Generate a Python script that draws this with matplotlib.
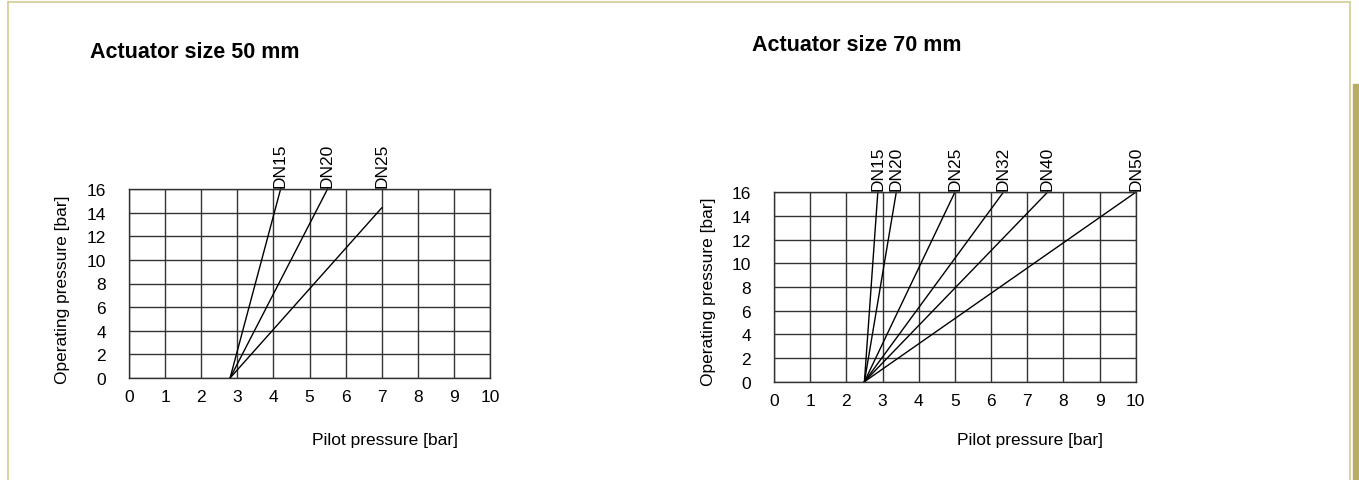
import matplotlib.pyplot as plt
from matplotlib.patches import Rectangle
from matplotlib.lines import Line2D

plt.rcParams['font.family'] = ['Liberation Sans', 'DejaVu Sans']

# Actuator size 50 mm
sizes_50 = ["DN15", "DN20", "DN25"]
start_50 = 2.8
end_x_50 = [4.2, 5.5, 7.0]
end_y_50 = [16, 16, 14.4]

# Actuator size 70 mm
sizes_70 = ["DN15", "DN20", "DN25", "DN32", "DN40", "DN50"]
start_70 = 2.5
end_x_70 = [2.87, 3.38, 5.0, 6.34, 7.56, 10.0]
end_y_70 = [16, 16, 16, 16, 16, 16]

x_ticks = list(range(0, 11))
y_ticks = list(range(0, 17, 2))

W, H = 1359, 481
fig = plt.figure(figsize=(W / 100, H / 100), dpi=100)

GRID = "#333333"
FS = 12.5


def draw_panel(rect, title, title_pos, ylab_pos, xlab_pos, names, x0, ex, ey):
    ax = fig.add_axes(rect)
    ax.set_xlim(0, 10)
    ax.set_ylim(0, 16)
    ax.set_xticks(x_ticks)
    ax.set_yticks(y_ticks)
    ax.tick_params(length=0, labelsize=FS)
    ax.tick_params(axis='x', pad=8)
    ax.tick_params(axis='y', pad=16.5)
    ax.grid(True, color=GRID, linewidth=1)
    for s in ax.spines.values():
        s.set_color(GRID)
        s.set_linewidth(1)
    for name, xe, ye in zip(names, ex, ey):
        ax.plot([x0, xe], [0, ye], color="black", linewidth=1, clip_on=False)
        ax.text(xe, 16.2, name, rotation=90, ha='center', va='bottom', fontsize=FS)
    fig.text(title_pos[0] / W, 1 - title_pos[1] / H, title, fontsize=15.5,
             fontweight='bold', ha='left', va='baseline')
    fig.text(ylab_pos[0] / W, 1 - ylab_pos[1] / H, "Operating pressure [bar]",
             rotation=90, ha='center', va='center', fontsize=FS)
    fig.text(xlab_pos[0] / W, 1 - xlab_pos[1] / H, "Pilot pressure [bar]",
             ha='center', va='center', fontsize=FS)
    return ax


draw_panel([129 / W, 1 - 379 / H, 361 / W, 189 / H], "Actuator size 50 mm",
           (90, 58), (62, 290), (385, 440), sizes_50, start_50, end_x_50, end_y_50)
draw_panel([774 / W, 1 - 382.7 / H, 361.7 / W, 189.4 / H], "Actuator size 70 mm",
           (752, 51), (708, 292), (1030, 440), sizes_70, start_70, end_x_70, end_y_70)

# page frame
FRAME = "#d3cb96"
fig.add_artist(Line2D([8 / W, 1350 / W], [1 - 3 / H, 1 - 3 / H],
                      color=FRAME, linewidth=1.2, transform=fig.transFigure))
fig.add_artist(Line2D([8 / W, 8 / W], [0, 1 - 3 / H],
                      color=FRAME, linewidth=1.2, transform=fig.transFigure))
fig.add_artist(Line2D([1350 / W, 1350 / W], [0, 1 - 3 / H],
                      color=FRAME, linewidth=1.2, transform=fig.transFigure))
fig.add_artist(Rectangle((1353 / W, 0), 6 / W, 1 - 85 / H, color="#b8ae63",
                         transform=fig.transFigure))

fig.savefig("out.png", dpi=100)
